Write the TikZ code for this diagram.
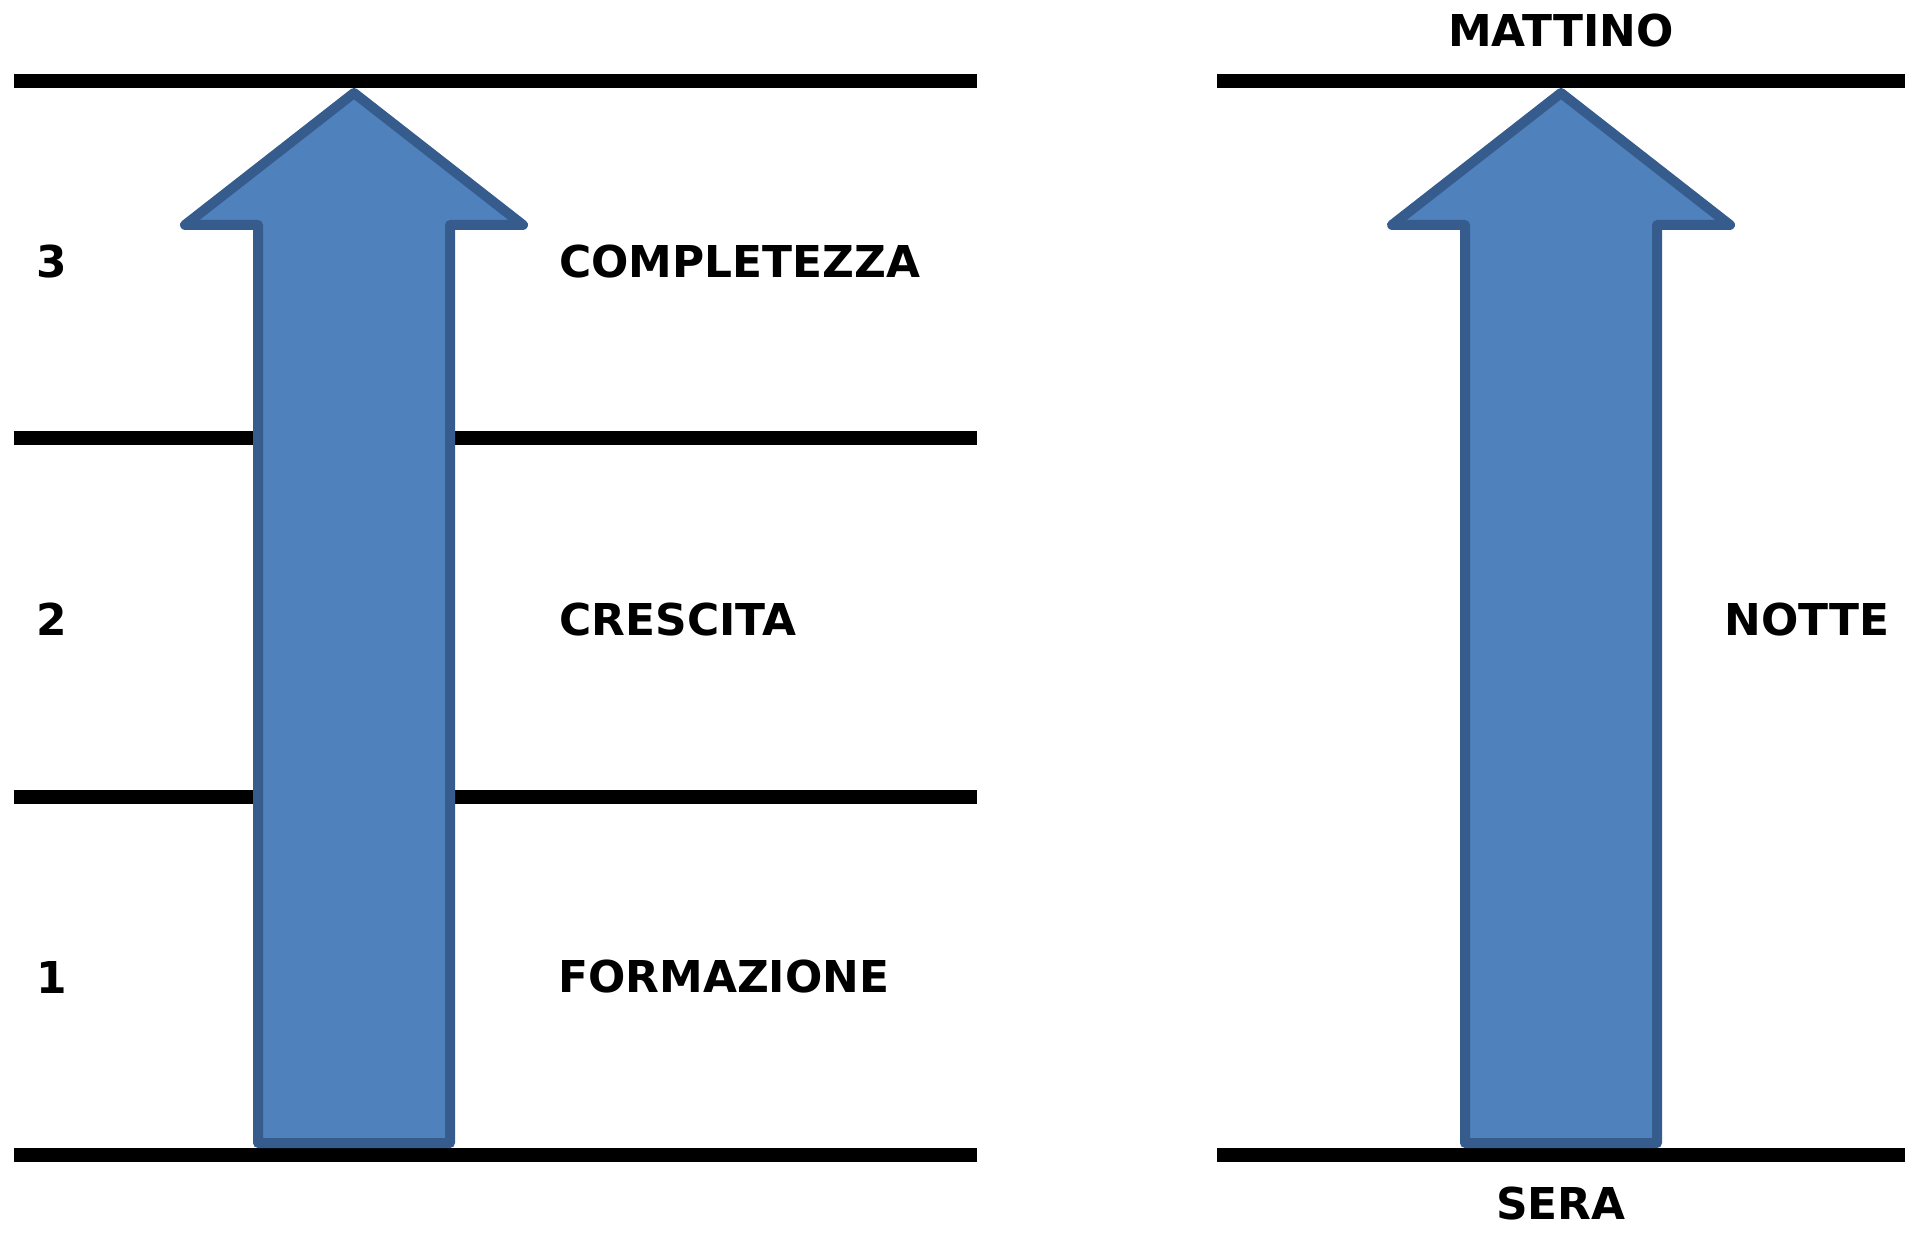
\documentclass[tikz,border=0pt]{standalone}
\usepackage{fontspec}
\setmainfont{DejaVu Sans}
\definecolor{arrowfill}{HTML}{4F81BD}
\definecolor{arrowedge}{HTML}{355C8C}
\begin{document}
\begin{tikzpicture}[x=0.5pt,y=-0.5pt,
  rule/.style={line width=7pt, line cap=butt},
  bigarrow/.style={fill=arrowfill, draw=arrowedge, line width=5pt, line join=round},
  lbl/.style={font=\bfseries\fontsize{21.95}{26}\selectfont, inner sep=0pt}]
\useasboundingbox (0,0) rectangle (1920,1234);
% left panel rules
\draw[rule] (13.5,81) -- (977,81);
\draw[rule] (13.5,438.5) -- (977,438.5);
\draw[rule] (13.5,797) -- (977,797);
\draw[rule] (13.5,1155) -- (977,1155);
% right panel rules
\draw[rule] (1217,81) -- (1905,81);
\draw[rule] (1217,1155) -- (1905,1155);
% arrows
\draw[bigarrow] (354,93) -- (523,225) -- (450,225) -- (450,1143) -- (258,1143) -- (258,225) -- (185,225) -- cycle;
\begin{scope}[xshift=603.5pt]
\draw[bigarrow] (354,93) -- (523,225) -- (450,225) -- (450,1143) -- (258,1143) -- (258,225) -- (185,225) -- cycle;
\end{scope}
% labels
\node[lbl, anchor=west] (n3) at (36,262) {3};
\node[lbl, anchor=west] (n2) at (36,619.5) {2};
\node[lbl, anchor=west] (n1) at (36,977) {1};
\node[lbl, anchor=west] (compl) at (559,262) {COMPLETEZZA};
\node[lbl, anchor=west] (cresc) at (559,619.5) {CRESCITA};
\node[lbl, anchor=west] (form) at (558,977) {FORMAZIONE};
\node[lbl] (matt) at (1561,31) {MATTINO};
\node[lbl, anchor=west] (notte) at (1724,619.5) {NOTTE};
\node[lbl] (sera) at (1561,1204) {SERA};
\end{tikzpicture}
\end{document}
